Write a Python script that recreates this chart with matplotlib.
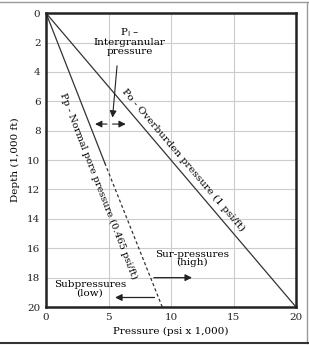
import matplotlib.pyplot as plt
from matplotlib.lines import Line2D

# endpoints (pressure in psi x 1,000, depth in 1,000 ft)
overburden_p = [0, 20]
overburden_d = [0, 20]
normal_solid_p = [0, 4.7]
normal_solid_d = [0, 10.2]
normal_dash_p = [4.7, 9.3]
normal_dash_d = [10.2, 20]

x_ticks = [0, 5, 10, 15, 20]
y_ticks = [0, 2, 4, 6, 8, 10, 12, 14, 16, 18, 20]

plt.rcParams['font.family'] = ['DejaVu Serif']
plt.rcParams['font.size'] = 7.5

fig = plt.figure(figsize=(3.09, 3.45), dpi=100)
ax = fig.add_axes([0.149, 0.110, 0.809, 0.852])

ax.plot(overburden_p, overburden_d, color='#333333', lw=0.9)
ax.plot(normal_solid_p, normal_solid_d, color='#333333', lw=0.9)
ax.plot(normal_dash_p, normal_dash_d, color='#333333', lw=0.9, ls=(0, (2.5, 2)))

ax.set_xlim(0, 20)
ax.set_ylim(20, 0)
ax.set_xticks(x_ticks)
ax.set_yticks(y_ticks)
ax.tick_params(length=0, pad=4, labelsize=7.5, colors='#222222')
ax.grid(True, color='#cccccc', lw=0.8)
ax.set_axisbelow(True)
for s in ax.spines.values():
    s.set_linewidth(1.8)
    s.set_color('#222222')

ax.set_xlabel('Pressure (psi x 1,000)', fontsize=7.5, labelpad=4)
ax.set_ylabel('Depth (1,000 ft)', fontsize=7.5, labelpad=5)

# rotated labels along the lines
ax.text(11.0, 10.0, 'Po - Overburden pressure (1 psi/ft)', rotation=-49.6,
        ha='center', va='center', rotation_mode='anchor')
ax.text(4.2, 11.8, 'Pp - Normal pore pressure (0.465 psi/ft)', rotation=-68.8,
        ha='center', va='center', rotation_mode='anchor', fontsize=7)

ax.text(6.7, 1.9, 'P$_\\mathrm{I}$ \u2013\nIntergranular\npressure', ha='center',
        va='center', linespacing=0.95)
ax.annotate('', xy=(5.3, 7.3), xytext=(5.7, 3.4),
            arrowprops=dict(arrowstyle='-|>', color='#222222', lw=0.8,
                            mutation_scale=10))
ax.annotate('', xy=(3.7, 7.55), xytext=(5.1, 7.55),
            arrowprops=dict(arrowstyle='-|>', color='#222222', lw=0.8,
                            mutation_scale=10))
ax.annotate('', xy=(6.6, 7.55), xytext=(5.1, 7.55),
            arrowprops=dict(arrowstyle='-|>', color='#222222', lw=0.8,
                            mutation_scale=10))

ax.text(3.5, 18.75, 'Subpressures\n(low)', ha='center', va='center',
        linespacing=0.95)
ax.annotate('', xy=(5.3, 19.35), xytext=(8.9, 19.35),
            arrowprops=dict(arrowstyle='-|>', color='#222222', lw=0.9,
                            mutation_scale=10))
ax.text(11.7, 16.7, 'Sur-pressures\n(high)', ha='center', va='center',
        linespacing=0.95)
ax.annotate('', xy=(11.9, 18.0), xytext=(8.4, 18.0),
            arrowprops=dict(arrowstyle='-|>', color='#222222', lw=0.9,
                            mutation_scale=10))

# outer frame of the figure
fig.add_artist(Line2D([0, 0.996], [0.994, 0.994], transform=fig.transFigure,
                      color='#999999', lw=1))
fig.add_artist(Line2D([0.994, 0.994], [0.006, 0.994], transform=fig.transFigure,
                      color='#999999', lw=1))
fig.add_artist(Line2D([0, 0.996], [0.006, 0.006], transform=fig.transFigure,
                      color='#333333', lw=1.5))

fig.savefig('out.png', dpi=100)
